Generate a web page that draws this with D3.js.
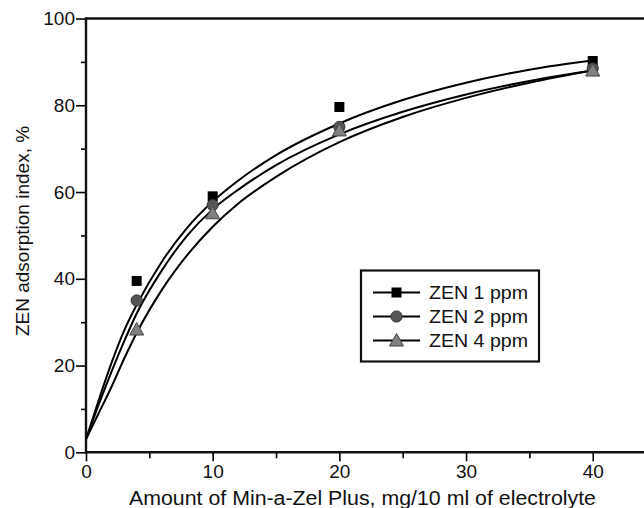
<!DOCTYPE html>
<html>
<head>
<meta charset="utf-8">
<script src="https://cdn.jsdelivr.net/npm/d3@7"></script>
<style>
  html, body { margin: 0; padding: 0; background: #fff; }
  svg { display: block; font-family: "Liberation Sans", Arial, sans-serif; }
</style>
</head>
<body>
<div id="chart"></div>
<script>
// measured points
const doses = [4, 10, 20, 40];
const zen1 = [39.5, 59, 79.6, 90.2];
const zen2 = [35, 57, 75, 88.5];
const zen4 = [28.3, 55.1, 74.2, 88];

// fitted curves
const curveX = [0, 1, 2, 3, 4, 6, 8, 10, 12, 15, 20, 25, 30, 35, 40];
const fit1 = [3, 12, 20.5, 28, 34, 44, 51.8, 57.8, 62.6, 68.5, 75.8, 81.2, 85.2, 88.2, 90.3];
const fit2 = [3, 11, 18.5, 25.5, 32, 42, 50, 56, 60.5, 66.2, 73.3, 78.5, 82.5, 85.6, 88];
const fit4 = [3, 9, 15, 21.5, 27.5, 37.5, 45.5, 52, 57.3, 63.5, 71.5, 77.3, 81.7, 85.2, 88];

const seriesNames = ["ZEN 1 ppm", "ZEN 2 ppm", "ZEN 4 ppm"];
const xTicks = [0, 10, 20, 30, 40];
const yTicks = [0, 20, 40, 60, 80, 100];

const width = 644, height = 508;

const svg = d3.select("#chart")
  .append("svg")
  .attr("width", width)
  .attr("height", height);

svg.append("rect").attr("width", width).attr("height", height).attr("fill", "#fff");

const x = d3.scaleLinear().domain([0, 44]).range([86, 643.4]);
const y = d3.scaleLinear().domain([0, 100]).range([452.3, 18.5]);

// minor ticks
svg.append("g")
  .attr("transform", `translate(0,${y(0)})`)
  .call(d3.axisBottom(x).tickValues([5, 15, 25, 35]).tickSize(6).tickFormat(""))
  .call(g => g.select(".domain").remove())
  .selectAll("line").attr("stroke-width", 1.6);

svg.append("g")
  .attr("transform", `translate(${x(0)},0)`)
  .call(d3.axisLeft(y).tickValues([10, 30, 50, 70, 90]).tickSize(5).tickFormat(""))
  .call(g => g.select(".domain").remove())
  .selectAll("line").attr("stroke-width", 1.6);

// major ticks + labels
const xAxis = svg.append("g")
  .attr("transform", `translate(0,${y(0)})`)
  .call(d3.axisBottom(x).tickValues(xTicks).tickSize(9).tickPadding(3).tickFormat(d3.format("d")));
xAxis.select(".domain").remove();
xAxis.selectAll("line").attr("stroke-width", 1.6);
xAxis.selectAll("text").attr("font-size", 19).attr("fill", "#111").attr("font-family", "Liberation Sans, Arial, sans-serif");

const yAxis = svg.append("g")
  .attr("transform", `translate(${x(0)},0)`)
  .call(d3.axisLeft(y).tickValues(yTicks).tickSize(10).tickPadding(1).tickFormat(d3.format("d")));
yAxis.select(".domain").remove();
yAxis.selectAll("line").attr("stroke-width", 1.6);
yAxis.selectAll("text").attr("font-size", 19).attr("fill", "#111").attr("font-family", "Liberation Sans, Arial, sans-serif");

// frame lines
svg.append("line")
  .attr("x1", x(0)).attr("x2", width).attr("y1", y(0)).attr("y2", y(0))
  .attr("stroke", "#111").attr("stroke-width", 2.4);
svg.append("line")
  .attr("x1", x(0)).attr("x2", width).attr("y1", y(100)).attr("y2", y(100))
  .attr("stroke", "#111").attr("stroke-width", 2.4);
svg.append("line")
  .attr("x1", x(0)).attr("x2", x(0)).attr("y1", y(100) - 1.2).attr("y2", y(0) + 1.2)
  .attr("stroke", "#111").attr("stroke-width", 2.4);

// curves
const line = d3.line()
  .x(d => x(d[0]))
  .y(d => y(d[1]))
  .curve(d3.curveMonotoneX);

[fit1, fit2, fit4].forEach(fit => {
  svg.append("path")
    .datum(curveX.map((cx, i) => [cx, fit[i]]))
    .attr("d", line)
    .attr("fill", "none")
    .attr("stroke", "#000")
    .attr("stroke-width", 2);
});

// markers
const squarePath = "M-5,-5H5V5H-5Z";
const trianglePath = "M0,-7L7,5.5L-7,5.5Z";

function drawSquares(g, data) {
  g.selectAll(".sq")
    .data(data)
    .enter()
    .append("path")
    .attr("class", "sq")
    .attr("d", squarePath)
    .attr("transform", d => `translate(${x(d[0])},${y(d[1])})`)
    .attr("fill", "#000");
}

function drawCircles(g, data) {
  g.selectAll(".ci")
    .data(data)
    .enter()
    .append("circle")
    .attr("class", "ci")
    .attr("cx", d => x(d[0]))
    .attr("cy", d => y(d[1]))
    .attr("r", 5.6)
    .attr("fill", "#555")
    .attr("stroke", "#333")
    .attr("stroke-width", 1);
}

function drawTriangles(g, data) {
  g.selectAll(".tr")
    .data(data)
    .enter()
    .append("path")
    .attr("class", "tr")
    .attr("d", trianglePath)
    .attr("transform", d => `translate(${x(d[0])},${y(d[1])})`)
    .attr("fill", "#808080")
    .attr("stroke", "#444")
    .attr("stroke-width", 1);
}

const marks = svg.append("g");
drawSquares(marks, doses.map((d, i) => [d, zen1[i]]));
drawCircles(marks, doses.map((d, i) => [d, zen2[i]]));
drawTriangles(marks, doses.map((d, i) => [d, zen4[i]]));

// legend
const legend = svg.append("g").attr("id", "legend");
legend.append("rect")
  .attr("x", 361).attr("y", 270.5)
  .attr("width", 178).attr("height", 91)
  .attr("fill", "#fff")
  .attr("stroke", "#111")
  .attr("stroke-width", 2.2);

const rowY = [292.5, 316.5, 340.5];
seriesNames.forEach((name, i) => {
  const row = legend.append("g").attr("transform", `translate(0,${rowY[i]})`);
  row.append("line")
    .attr("x1", 373).attr("x2", 420)
    .attr("stroke", "#000").attr("stroke-width", 2);
  if (i === 0) {
    row.append("path").attr("d", squarePath).attr("transform", "translate(396.5,0)").attr("fill", "#000");
  } else if (i === 1) {
    row.append("circle").attr("cx", 396.5).attr("r", 5.6).attr("fill", "#555").attr("stroke", "#333");
  } else {
    row.append("path").attr("d", trianglePath).attr("transform", "translate(396.5,0)")
      .attr("fill", "#808080").attr("stroke", "#444");
  }
  row.append("text")
    .attr("x", 429)
    .attr("y", 6.5)
    .attr("font-size", 18)
    .attr("textLength", 99)
    .attr("lengthAdjust", "spacingAndGlyphs")
    .attr("fill", "#111")
    .text(name);
});

// axis titles
svg.append("text")
  .attr("x", 129)
  .attr("y", 504.5)
  .attr("font-size", 20)
  .attr("textLength", 467)
  .attr("lengthAdjust", "spacingAndGlyphs")
  .attr("fill", "#111")
  .text("Amount of Min-a-Zel Plus, mg/10 ml of electrolyte");

svg.append("text")
  .attr("transform", "translate(29,231) rotate(-90)")
  .attr("text-anchor", "middle")
  .attr("font-size", 19)
  .attr("fill", "#111")
  .text("ZEN adsorption index, %");
</script>
</body>
</html>
